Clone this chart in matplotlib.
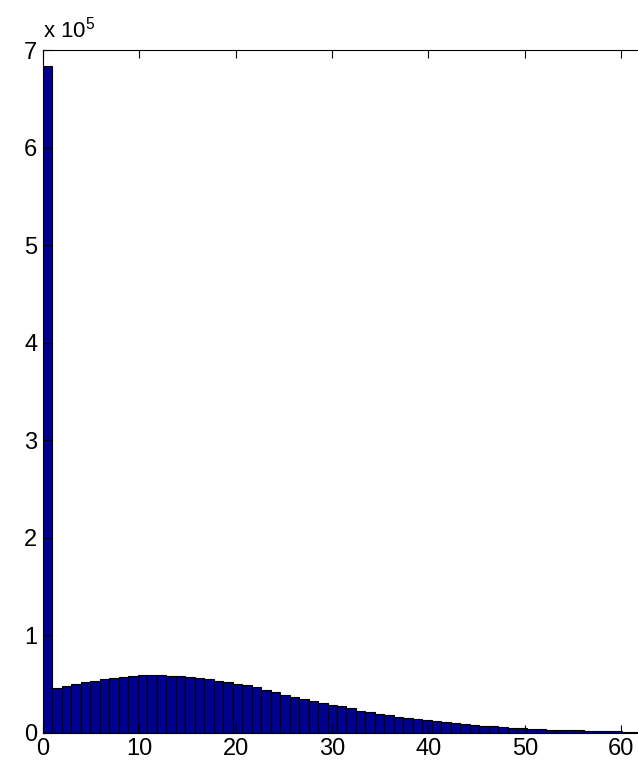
import numpy as np
import matplotlib
matplotlib.use("Agg")
import matplotlib.pyplot as plt
from matplotlib.ticker import FuncFormatter

plt.rcParams["font.family"] = ["Liberation Sans", "DejaVu Sans"]
plt.rcParams["mathtext.fontset"] = "custom"
plt.rcParams["mathtext.rm"] = "Liberation Sans"

# histogram counts, one per bin (64 bins over 0..63), in units of 1e5
counts_e5 = [
    6.84, 0.458, 0.474, 0.499, 0.515, 0.526, 0.546, 0.560, 0.571, 0.577,
    0.587, 0.587, 0.594, 0.584, 0.577, 0.567, 0.560, 0.546, 0.533, 0.519,
    0.502, 0.485, 0.468, 0.441, 0.417, 0.389, 0.362, 0.341, 0.325, 0.304,
    0.285, 0.273, 0.249, 0.225, 0.208, 0.195, 0.181, 0.164, 0.150, 0.140,
    0.128, 0.118, 0.108, 0.098, 0.089, 0.080, 0.072, 0.065, 0.058, 0.052,
    0.046, 0.041, 0.036, 0.032, 0.028, 0.025, 0.022, 0.019, 0.017, 0.015,
    0.013, 0.011, 0.010, 0.008,
]
counts = np.array(counts_e5) * 1e5
x_ticks = [0, 10, 20, 30, 40, 50, 60, 70]
y_ticks = [0, 1e5, 2e5, 3e5, 4e5, 5e5, 6e5, 7e5]

edges = np.linspace(0, 63, len(counts) + 1)

fig = plt.figure(figsize=(6.38, 7.72), dpi=100)
ax = fig.add_axes([0.067, 0.051, 1.058, 0.884])

ax.bar(edges[:-1], counts, width=np.diff(edges), align="edge",
       color="#00008f", edgecolor="black", linewidth=0.8)

ax.set_xlim(0, 70)
ax.set_ylim(0, 7e5)
ax.set_xticks(x_ticks)
ax.set_yticks(y_ticks)
ax.yaxis.set_major_formatter(FuncFormatter(lambda v, p: f"{v / 1e5:g}"))
ax.tick_params(direction="in", top=True, right=True, length=6,
               labelsize=17, pad=4, width=0.8)
for s in ax.spines.values():
    s.set_linewidth(0.8)

# MATLAB-style exponent label above the y axis
ax.text(0.0, 1.019, r"x 10$^5$", transform=ax.transAxes,
        fontsize=16, ha="left", va="baseline")

fig.savefig("out.png", dpi=100)
